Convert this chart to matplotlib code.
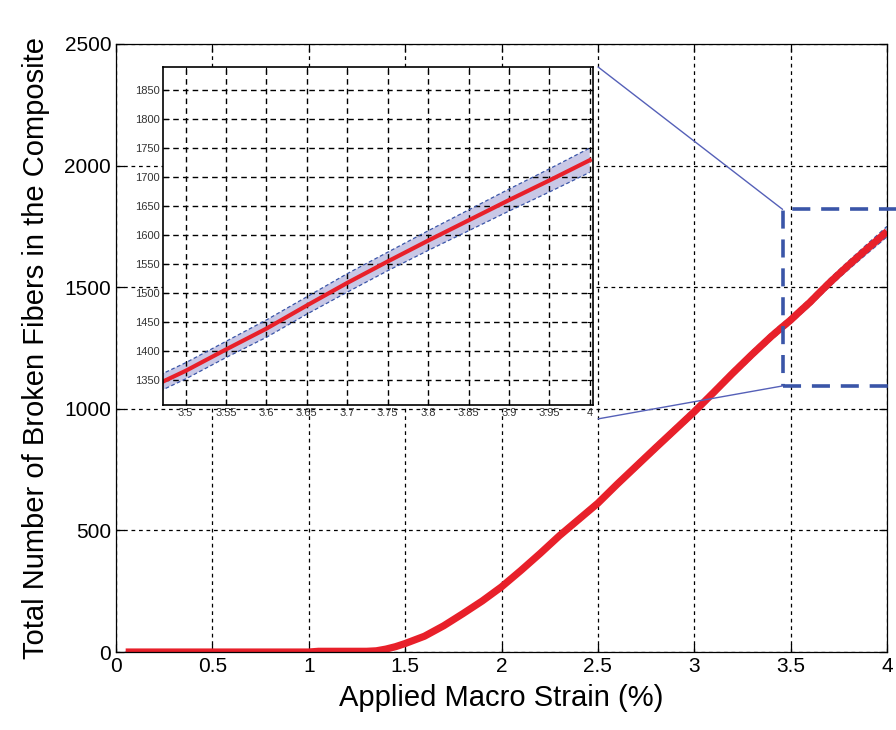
import matplotlib
matplotlib.use('Agg')
import numpy as np
from matplotlib import pyplot as plt
from matplotlib.patches import Rectangle, ConnectionPatch

plt.rcParams['font.family'] = ['Liberation Sans', 'DejaVu Sans']

# data
strain = [0.05, 0.5, 1.0, 1.05, 1.3, 1.35, 1.4, 1.45, 1.5, 1.6, 1.7, 1.8, 1.9,
          2.0, 2.1, 2.2, 2.3, 2.4, 2.5, 2.6, 2.7, 2.8, 2.9, 3.0, 3.1, 3.2, 3.3,
          3.4, 3.45, 3.5, 3.55, 3.6, 3.65, 3.7, 3.75, 3.8, 3.85, 3.9, 3.95, 4.0]
broken = [0, 0, 0, 3, 3, 5, 12, 22, 35, 65, 108, 158, 210,
          268, 335, 405, 478, 545, 612, 690, 765, 840, 914, 988, 1067, 1147, 1224,
          1298, 1332, 1365, 1402, 1438, 1478, 1517, 1554, 1590, 1625, 1660, 1694, 1729]
spread = [0, 0, 0, 0, 0, 1, 3, 4, 6, 7, 8, 9, 9,
          10, 10, 11, 11, 12, 12, 12, 13, 13, 13, 14, 14, 14, 14,
          14, 14, 14, 14, 15, 15, 16, 16, 17, 18, 19, 20, 21]

main_xticks = [0, 0.5, 1, 1.5, 2, 2.5, 3, 3.5, 4]
main_xlabels = ['0', '0.5', '1', '1.5', '2', '2.5', '3', '3.5', '4']
main_yticks = [0, 500, 1000, 1500, 2000, 2500]
inset_xticks = [3.5, 3.55, 3.6, 3.65, 3.7, 3.75, 3.8, 3.85, 3.9, 3.95, 4]
inset_xlabels = ['3.5', '3.55', '3.6', '3.65', '3.7', '3.75', '3.8', '3.85', '3.9', '3.95', '4']
inset_yticks = [1350, 1400, 1450, 1500, 1550, 1600, 1650, 1700, 1750, 1800, 1850]

# zoom box drawn on the main axes
box_x = (3.458, 4.12)
box_y = (1094, 1820)

x = np.array(strain)
y = np.array(broken)
s = np.array(spread)

red = '#e8202a'
blue = '#3a55a8'
band = '#c8c8e6'

fig = plt.figure(figsize=(8.96, 7.30), dpi=100)
ax = fig.add_axes([0.1295, 0.1068, 0.8605, 0.833])

ax.fill_between(x, y - s, y + s, color=band, lw=0)
ax.plot(x, y - s, color=blue, lw=1, ls=(0, (3, 2)))
ax.plot(x, y + s, color=blue, lw=1, ls=(0, (3, 2)))
ax.plot(x, y, color=red, lw=5.2, solid_capstyle='butt', solid_joinstyle='round')

ax.set_xlim(0, 4)
ax.set_ylim(0, 2500)
ax.set_xticks(main_xticks)
ax.set_xticklabels(main_xlabels)
ax.set_yticks(main_yticks)
ax.grid(True, color='black', ls=(0, (3, 3)), lw=0.9)
ax.tick_params(direction='in', length=6, top=True, right=True, labelsize=15, width=0.9)
for sp in ax.spines.values():
    sp.set_linewidth(0.9)
ax.set_xlabel('Applied Macro Strain (%)', fontsize=21, labelpad=6)
ax.set_ylabel('Total Number of Broken Fibers in the Composite', fontsize=21, labelpad=10)

rect = Rectangle((box_x[0], box_y[0]), box_x[1] - box_x[0], box_y[1] - box_y[0],
                 fill=False, ec=blue, lw=2.6, ls=(0, (5, 3)), clip_on=False, zorder=5)
ax.add_patch(rect)

# inset
axin = fig.add_axes([0.1819, 0.4452, 0.4799, 0.463])
axin.fill_between(x, y - s, y + s, color=band, lw=0)
axin.plot(x, y - s, color=blue, lw=0.9, ls=(0, (3, 2)))
axin.plot(x, y + s, color=blue, lw=0.9, ls=(0, (3, 2)))
axin.plot(x, y, color=red, lw=3, solid_joinstyle='round')
axin.set_xlim(3.472, 4.004)
axin.set_ylim(1306, 1890)
axin.set_xticks(inset_xticks)
axin.set_xticklabels(inset_xlabels)
axin.set_yticks(inset_yticks)
axin.grid(True, color='black', ls=(0, (4, 3)), lw=1)
axin.tick_params(direction='in', length=4, top=True, right=True, labelsize=8,
                 labelcolor='#333333', pad=2)
for sp in axin.spines.values():
    sp.set_linewidth(1.2)

# connector lines from the inset to the zoom box
con1 = ConnectionPatch(xyA=(1.012, 1.0), coordsA=axin.transAxes,
                       xyB=(box_x[0], box_y[1]), coordsB=ax.transData,
                       color='#5560b8', lw=1)
con2 = ConnectionPatch(xyA=(1.012, -0.041), coordsA=axin.transAxes,
                       xyB=(box_x[0], box_y[0]), coordsB=ax.transData,
                       color='#5560b8', lw=1)
fig.add_artist(con1)
fig.add_artist(con2)

fig.savefig('out.png', dpi=100)
